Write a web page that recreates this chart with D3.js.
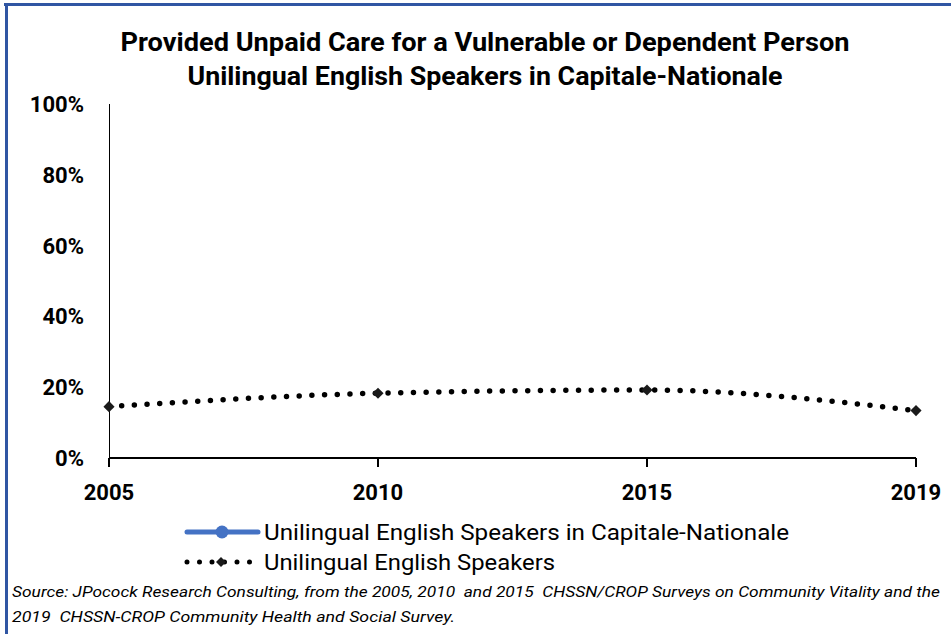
<!DOCTYPE html>
<html>
<head>
<meta charset="utf-8">
<script src="https://cdn.jsdelivr.net/npm/d3@7"></script>
<style>
  html, body { margin: 0; padding: 0; background: #fff; }
  svg { display: block; }
  text { font-family: "Liberation Sans Narrow", "Roboto", "Liberation Sans", sans-serif; fill: #000; }
</style>
</head>
<body>
<svg id="chart" width="951" height="634"></svg>
<script>
// ---- data ----
const years = ["2005", "2010", "2015", "2019"];
const seriesNames = ["Unilingual English Speakers in Capitale-Nationale", "Unilingual English Speakers"];
const capitaleNationale = [null, null, null, null];
const unilingualEnglish = [14.5, 18.3, 19.2, 13.4];
const yTicks = [0, 20, 40, 60, 80, 100];
const titleLines = ["Provided Unpaid Care for a Vulnerable or Dependent Person",
                    "Unilingual English Speakers in Capitale-Nationale"];
const sourceLines = ["Source: JPocock Research Consulting, from the 2005, 2010  and 2015  CHSSN/CROP Surveys on Community Vitality and the",
                     "2019  CHSSN-CROP Community Health and Social Survey."];

const svg = d3.select("#chart");
svg.append("rect").attr("width", 951).attr("height", 634).attr("fill", "#fff");

// frame (cut off at right/bottom)
svg.append("line").attr("x1", 4).attr("x2", 951).attr("y1", 4.5).attr("y2", 4.5)
  .attr("stroke", "#3056a3").attr("stroke-width", 3);
svg.append("line").attr("x1", 6.5).attr("x2", 6.5).attr("y1", 3).attr("y2", 634)
  .attr("stroke", "#3056a3").attr("stroke-width", 3);

// title
const titleY = [51, 85];
const titleW = [729, 595];
titleLines.forEach((t, i) => {
  svg.append("text").attr("x", 485).attr("y", titleY[i]).attr("text-anchor", "middle")
    .attr("font-size", 25).attr("font-weight", "bold")
    .attr("textLength", titleW[i]).attr("lengthAdjust", "spacingAndGlyphs").text(t);
});

// scales
const x = d3.scalePoint().domain(years).range([109, 916]).padding(0);
const y = d3.scaleLinear().domain([0, 100]).range([458, 104]);

// y axis
svg.append("line").attr("x1", 109.5).attr("x2", 109.5).attr("y1", y(100)).attr("y2", y(0))
  .attr("stroke", "#000").attr("stroke-width", 1);
svg.selectAll(".ytick").data(yTicks).enter().append("text")
  .attr("x", 84).attr("y", d => y(d)).attr("dy", "0.36em").attr("text-anchor", "end")
  .attr("font-size", 22).attr("font-weight", "bold").text(d => d + "%");

// x axis
svg.append("line").attr("x1", x(years[0])).attr("x2", x(years[3])).attr("y1", y(0)).attr("y2", y(0))
  .attr("stroke", "#000").attr("stroke-width", 2);
svg.selectAll(".xtickline").data(years).enter().append("line")
  .attr("x1", d => x(d)).attr("x2", d => x(d)).attr("y1", y(0)).attr("y2", y(0) + 9)
  .attr("stroke", "#000").attr("stroke-width", 2);
svg.selectAll(".xtick").data(years).enter().append("text")
  .attr("x", d => x(d)).attr("y", 500).attr("text-anchor", "middle")
  .attr("font-size", 22).attr("font-weight", "bold").text(d => d);

// series 1 (no data)
const line = d3.line().defined(d => d.v != null).x(d => x(d.year)).y(d => y(d.v))
  .curve(d3.curveMonotoneX);
const s1 = years.map((yr, i) => ({ year: yr, v: capitaleNationale[i] }));
svg.append("path").datum(s1).attr("d", line).attr("fill", "none")
  .attr("stroke", "#4472c4").attr("stroke-width", 5);

// series 2 dotted
const s2 = years.map((yr, i) => ({ year: yr, v: unilingualEnglish[i] }));
svg.append("path").datum(s2).attr("d", line).attr("fill", "none")
  .attr("stroke", "#000").attr("stroke-width", 5.5).attr("stroke-linecap", "round")
  .attr("stroke-dasharray", "0 12.7");
const diamond = d3.symbol(d3.symbolSquare, 62);
svg.selectAll(".mk").data(s2).enter().append("path")
  .attr("d", diamond)
  .attr("transform", d => `translate(${x(d.year)},${y(d.v)}) rotate(45)`)
  .attr("fill", "#1a1a1a");

// legend
const lg = svg.append("g");
lg.append("line").attr("x1", 187).attr("x2", 258).attr("y1", 532).attr("y2", 532)
  .attr("stroke", "#4472c4").attr("stroke-width", 5).attr("stroke-linecap", "round");
lg.append("circle").attr("cx", 222).attr("cy", 532).attr("r", 6.5).attr("fill", "#4472c4");
lg.append("line").attr("x1", 187).attr("x2", 256).attr("y1", 562).attr("y2", 562)
  .attr("stroke", "#000").attr("stroke-width", 5).attr("stroke-linecap", "round")
  .attr("stroke-dasharray", "0 12.5");
lg.append("path").attr("d", d3.symbol(d3.symbolSquare, 50))
  .attr("transform", "translate(221,562) rotate(45)").attr("fill", "#1a1a1a");
const legW = [525, 291];
seriesNames.forEach((n, i) => {
  lg.append("text").attr("x", 264).attr("y", 540 + i * 30).attr("font-size", 22)
    .attr("textLength", legW[i]).attr("lengthAdjust", "spacingAndGlyphs").text(n);
});

// source
const srcW = [928, 443];
sourceLines.forEach((t, i) => {
  svg.append("text").attr("x", 12).attr("y", 597 + i * 25).attr("font-size", 15)
    .attr("font-style", "italic").style("white-space", "pre")
    .attr("textLength", srcW[i]).attr("lengthAdjust", "spacingAndGlyphs").text(t);
});
</script>
</body>
</html>
